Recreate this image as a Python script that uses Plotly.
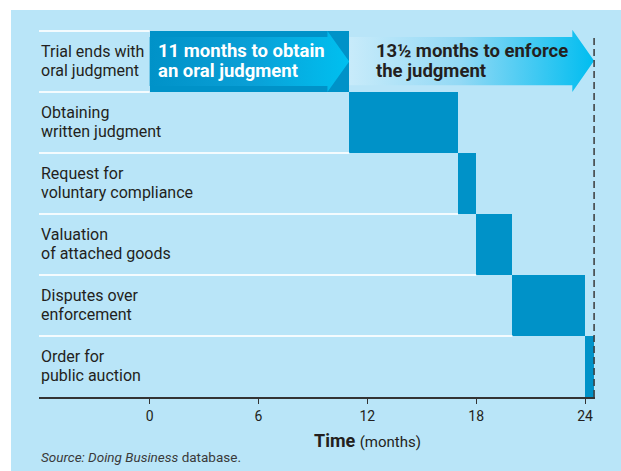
import plotly.graph_objects as go

# Steps of enforcing a judgment, in months from the end of the trial
steps = [
    "Trial ends with<br>oral judgment",
    "Obtaining<br>written judgment",
    "Request for<br>voluntary compliance",
    "Valuation<br>of attached goods",
    "Disputes over<br>enforcement",
    "Order for<br>public auction",
]
step_start = [0, 11, 17, 18, 20, 24]
step_end = [11, 17, 18, 20, 24, 24.5]

# The two phases shown as arrows in the first row
phase_labels = ["11 months to obtain<br>an oral judgment", "13½ months to enforce<br>the judgment"]
phase_start = [0, 11]
phase_end = [11, 24.5]

tick_vals = [0, 6, 12, 18, 24]

BG = "#b9e5f8"
BAR = "#0092c8"
INK = "#231f20"
FONT = "Roboto"

n = len(steps)
row_top = [n - k for k in range(n)]          # y of each row's upper edge
row_mid = [n - k - 0.5 for k in range(n)]
x_min, x_max = -6.1, 24.55

# Plot-area size in pixels, used to place items in the margins
M_L, M_R, M_T, M_B = 39, 26, 20, 74
px_w = 621 - M_L - M_R
px_h = 471 - M_T - M_B

fig = go.Figure()

# Duration bars (the first row is the dark box behind the oral-judgment arrow)
fig.add_trace(go.Bar(
    orientation="h",
    y=row_mid,
    x=[e - s for s, e in zip(step_start, step_end)],
    base=step_start,
    width=1,
    marker=dict(color=BAR, line=dict(width=0)),
    hoverinfo="skip",
))

# Phase arrows drawn as filled polygons with a horizontal gradient
head_len = 1.2
arrow_styles = [
    dict(shaft=(0.10, 0.90), head=(0.0, 1.0),
         scale=[[0, BAR], [0.5, "#0a9fd6"], [1, "#00c0f0"]]),
    dict(shaft=(0.10, 0.89), head=(-0.02, 1.0),
         scale=[[0, "#c8ebfa"], [0.45, "#93d9f5"], [1, "#00bdf0"]]),
]
for s, e, st in zip(phase_start, phase_end, arrow_styles):
    top = row_top[0]
    sy0, sy1 = top - st["shaft"][0], top - st["shaft"][1]
    hy0, hy1 = top - st["head"][0], top - st["head"][1]
    hb = e - head_len
    fig.add_trace(go.Scatter(
        x=[s, hb, hb, e, hb, hb, s, s],
        y=[sy0, sy0, hy0, (hy0 + hy1) / 2, hy1, sy1, sy1, sy0],
        mode="lines",
        line=dict(width=0, color="rgba(0,0,0,0)"),
        fill="toself",
        fillgradient=dict(type="horizontal", colorscale=st["scale"]),
        hoverinfo="skip",
        showlegend=False,
    ))

shapes = []
# White strips framing the blue panel
shapes.append(dict(type="rect", xref="paper", yref="paper", layer="below",
                   x0=-M_L / px_w, x1=-28 / px_w, y0=-M_B / px_h, y1=1 + M_T / px_h,
                   fillcolor="white", line=dict(width=0)))
shapes.append(dict(type="rect", xref="paper", yref="paper", layer="below",
                   x0=-M_L / px_w, x1=1 + M_R / px_w, y0=1 + 10 / px_h, y1=1 + M_T / px_h,
                   fillcolor="white", line=dict(width=0)))

# White row separators running up to the start of each step's bar
shapes.append(dict(type="line", x0=x_min, x1=step_start[0], y0=row_top[0], y1=row_top[0],
                   line=dict(color="#f4fbfe", width=2), layer="above"))
for k in range(n - 1):
    y = row_top[k] - 1
    shapes.append(dict(type="line", x0=x_min, x1=step_start[k], y0=y, y1=y,
                       line=dict(color="#f4fbfe", width=2), layer="above"))

# Dashed marker at the total duration
shapes.append(dict(type="line", x0=phase_end[-1], x1=phase_end[-1], y0=0, y1=row_top[0] - 0.07,
                   line=dict(color="#3a3a3a", width=1.5, dash="7px,4px"), layer="above"))

annotations = []
# Step labels, one annotation per text line
for k, lab in enumerate(steps):
    for j, line in enumerate(lab.split("<br>")):
        annotations.append(dict(
            text=line, xref="paper", x=0, xanchor="left",
            y=row_mid[k], yref="y", yanchor="middle",
            yshift=10 - 19 * j, showarrow=False,
            font=dict(family=FONT, size=16, color=INK),
        ))

# Phase labels inside the arrows
phase_colors = ["white", INK]
phase_offsets = [0.35, 1.35]
for lab, s, c, off in zip(phase_labels, phase_start, phase_colors, phase_offsets):
    for j, line in enumerate(lab.split("<br>")):
        annotations.append(dict(
            text="<b>" + line + "</b>", x=s + off, xanchor="left",
            y=row_mid[0], yanchor="middle", yshift=10.5 - 20 * j,
            showarrow=False, font=dict(family=FONT, size=18.5, color=c),
        ))

# Axis title and source note (placed in the bottom margin)
annotations.append(dict(
    text="<b>Time</b> <span style='font-size:15px'>(months)</span>",
    xref="x", x=12, yref="paper", y=-44 / px_h, xanchor="center", yanchor="middle",
    showarrow=False, font=dict(family=FONT, size=18, color=INK),
))
annotations.append(dict(
    text="<i>Source: Doing Business</i> database.",
    xref="paper", x=0, yref="paper", y=-60 / px_h, xanchor="left", yanchor="middle",
    showarrow=False, font=dict(family=FONT, size=13.5, color="#3a3a3a"),
))

fig.update_layout(
    width=621, height=471, autosize=False,
    margin=dict(l=M_L, r=M_R, t=M_T, b=M_B, pad=0),
    paper_bgcolor=BG, plot_bgcolor=BG,
    showlegend=False,
    bargap=0,
    shapes=shapes,
    annotations=annotations,
    xaxis=dict(
        range=[x_min, x_max], tickvals=tick_vals, ticktext=[str(v) for v in tick_vals],
        ticks="outside", ticklen=5, tickwidth=1, tickcolor="#333333",
        showline=True, linecolor="#333333", linewidth=1.5,
        showgrid=False, zeroline=False, fixedrange=True,
        tickfont=dict(family=FONT, size=14, color=INK),
    ),
    yaxis=dict(range=[0, row_top[0] + 0.18], visible=False, fixedrange=True),
)

fig.write_html("out.html", config={"displayModeBar": False})
